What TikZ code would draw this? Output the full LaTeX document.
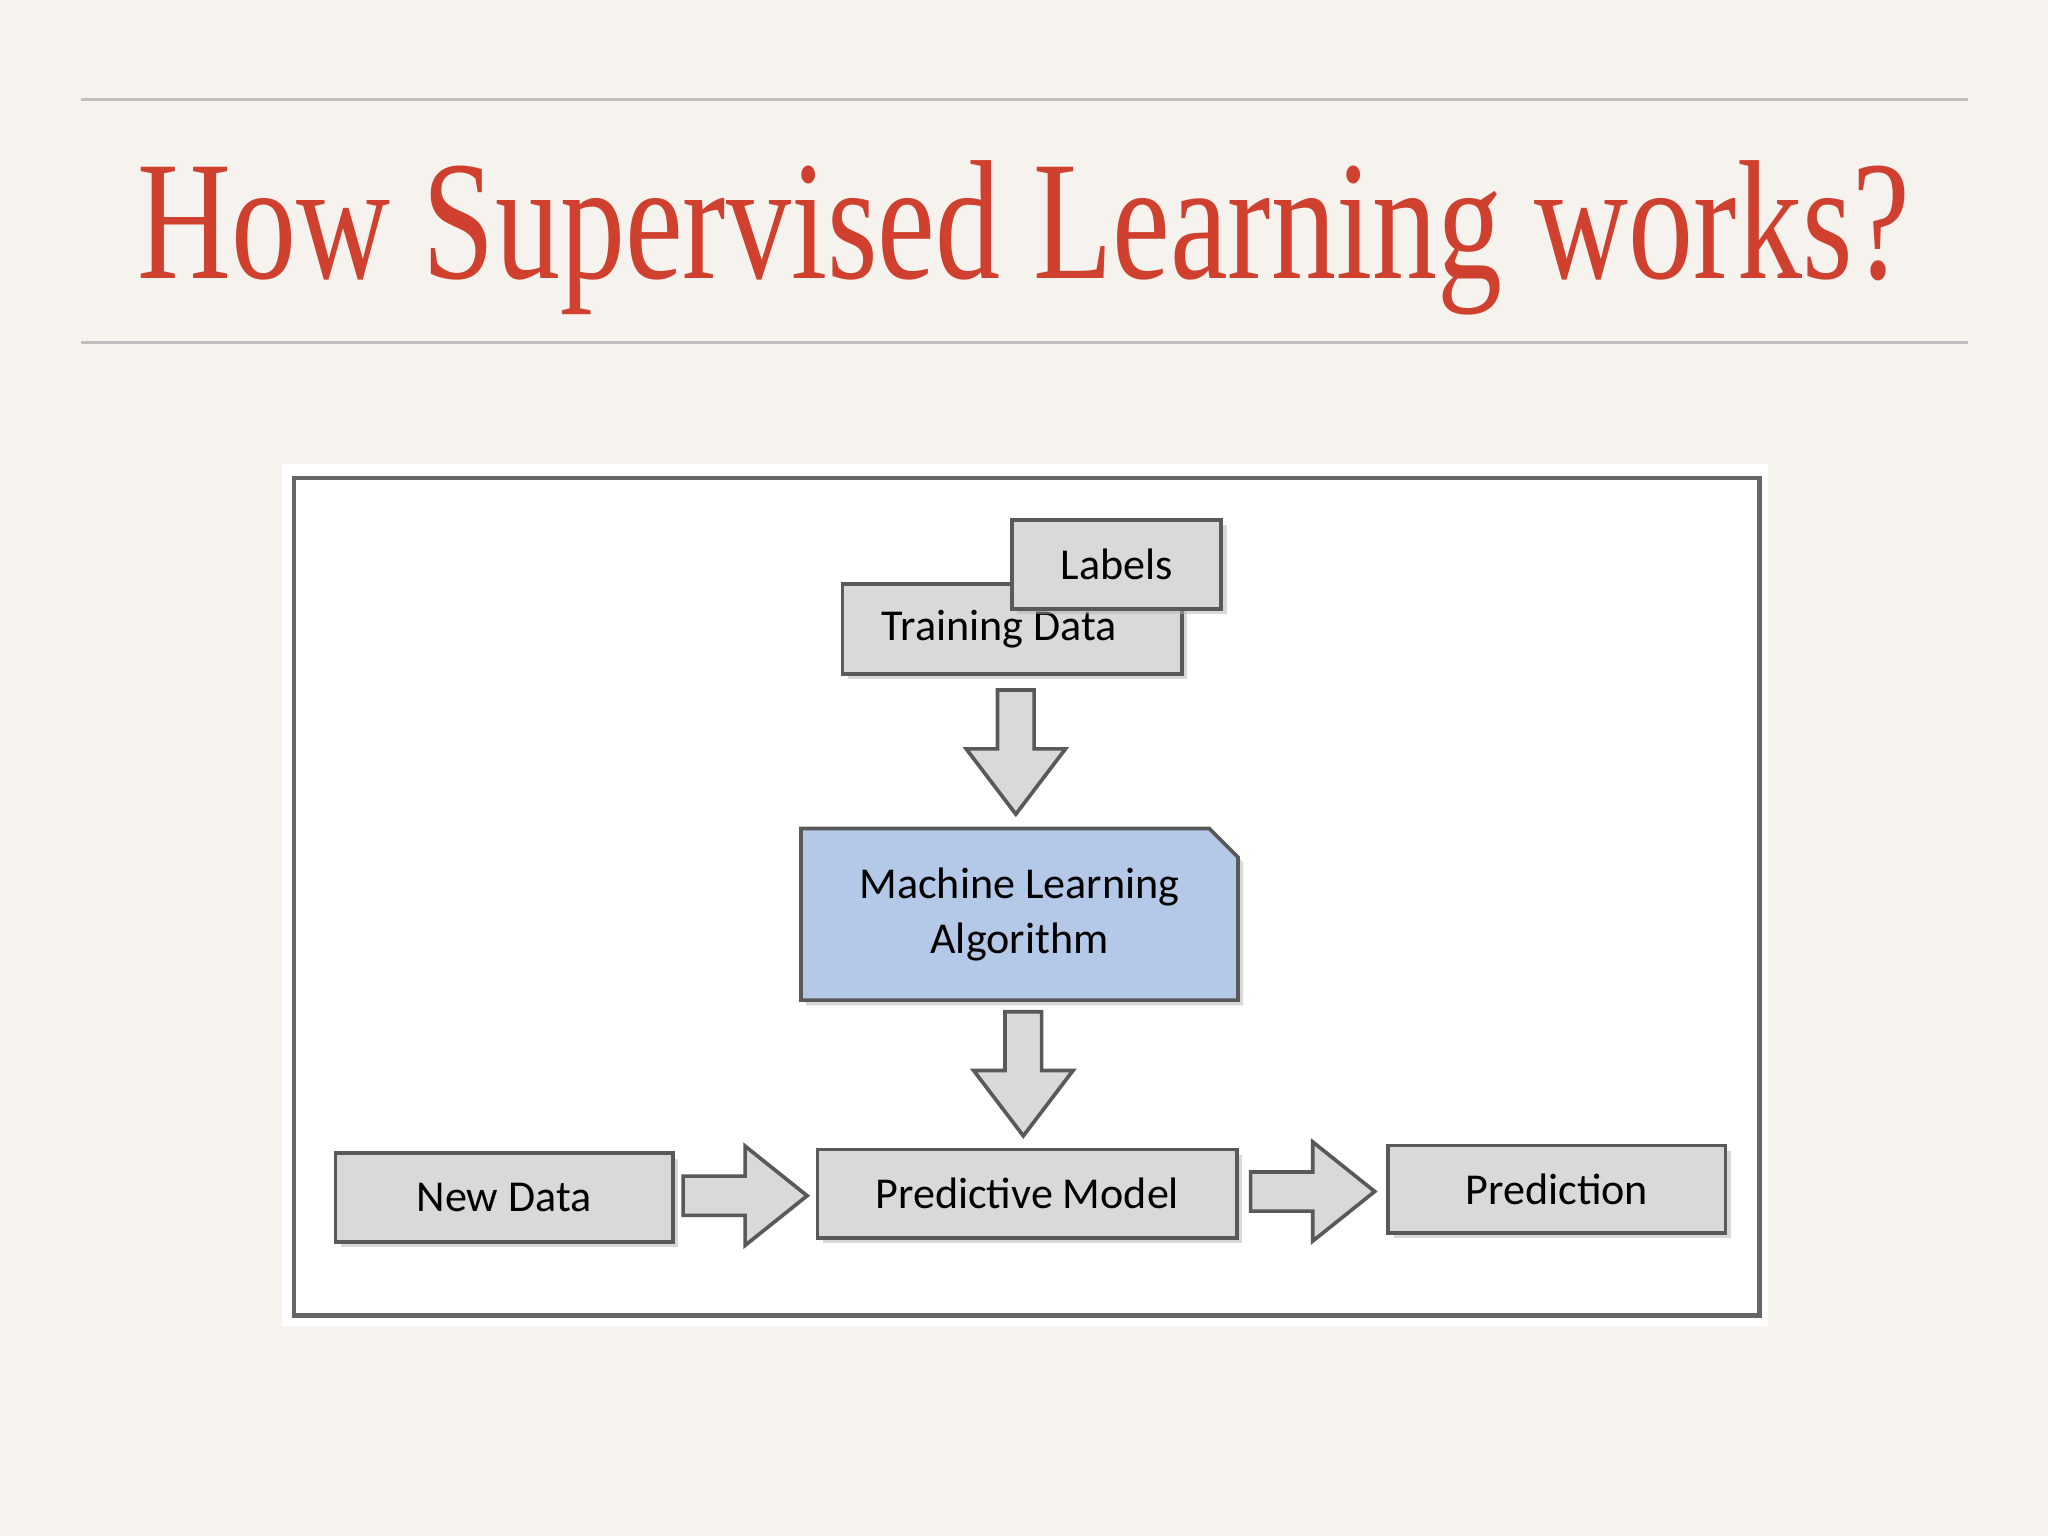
\documentclass[tikz,border=0pt]{standalone}
\usepackage{fontspec}
\setmainfont{Liberation Serif}
\newfontfamily\boxfont{Carlito}
\usetikzlibrary{positioning, calc, shadows}
\definecolor{slidebg}{HTML}{F6F3EF}
\definecolor{titlered}{HTML}{D0402F}
\definecolor{boxgray}{HTML}{D9D9D9}
\definecolor{mlblue}{HTML}{B4C8E8}
\tikzset{
  box/.style={draw=gray!70!black, fill=boxgray, line width=0.8pt, font=\boxfont\fontsize{9.6}{12}\selectfont,
    drop shadow={shadow xshift=0.04cm, shadow yshift=-0.04cm, fill=black!30}},
  fatarrow/.style={draw=gray!70!black, fill=boxgray, line width=0.8pt, line join=miter},
  pics/downarrow/.style={code={\draw[fatarrow] (-14,-47.5) -- (14,-47.5) -- (14,-2.5) -- (38,-2.5)
    -- (0,47.5) -- (-38,-2.5) -- (-14,-2.5) -- cycle;}},
  pics/rightarrow/.style={code={\draw[fatarrow] (-47.5,-15) -- (-47.5,15) -- (0,15) -- (0,38)
    -- (47.5,0) -- (0,-38) -- (0,-15) -- cycle;}},
}
\begin{document}
\begin{tikzpicture}[x=0.01cm, y=-0.01cm]
\fill[slidebg] (0,0) rectangle (1568,1176);
\useasboundingbox (0,0) rectangle (1568,1176);
% rules and title
\draw[gray!50, line width=0.6pt] (62,76) -- (1507,76);
\draw[gray!50, line width=0.6pt] (62,262) -- (1507,262);
\node[text=titlered, font=\fontsize{37}{40}\selectfont, xscale=0.765] (title) at (784,182) {How Supervised Learning works?};
% panel
\fill[white] (216,355) rectangle (1354,1015);
\draw[gray!80!black, line width=1pt] (225,366) rectangle (1347,1007);
% boxes
\node[box, minimum width=2.60cm, minimum height=0.69cm] (train) at (775,481.5) {\raisebox{-0.08cm}{\hspace*{-0.2cm}Training Data}};
\node[box, minimum width=1.60cm, minimum height=0.68cm] (labels) at (855,432) {Labels};
\node[minimum width=3.33cm, minimum height=1.30cm] (ml) at (780.5,700) {};
\draw[draw=gray!70!black, fill=mlblue, line width=0.8pt,
  drop shadow={shadow xshift=0.04cm, shadow yshift=-0.04cm, fill=black!30}]
  (ml.north west) -- ($(ml.north east)+(-22,0)$) -- ($(ml.north east)+(0,22)$) -- (ml.south east) -- (ml.south west) -- cycle;
\node[align=center, font=\boxfont\fontsize{9.6}{12}\selectfont] (mltext) at (ml) {Machine Learning\\Algorithm};
\node[box, minimum width=2.58cm, minimum height=0.68cm] (new) at (386,917) {New Data};
\node[box, minimum width=3.21cm, minimum height=0.68cm] (model) at (786.5,914) {Predictive Model};
\node[box, minimum width=2.58cm, minimum height=0.67cm] (pred) at (1192,910.5) {Prediction};
% connectors
\pic at ($(train.south)!0.5!(ml.north)$) {downarrow};
\pic at ($(ml.south)!0.5!(model.north)$) {downarrow};
\pic at ($(new.east)!0.5!(model.west)$) {rightarrow};
\pic at ($(model.east)!0.5!(pred.west)$) {rightarrow};
\end{tikzpicture}
\end{document}
